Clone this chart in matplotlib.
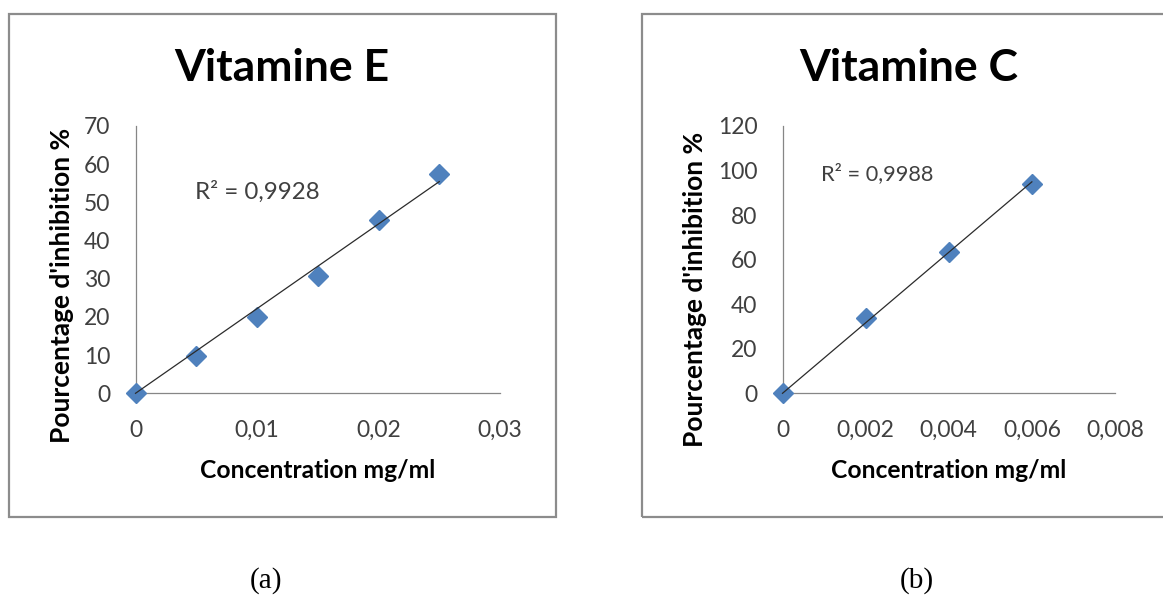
import numpy as np
import matplotlib
matplotlib.use("Agg")
import matplotlib.pyplot as plt
from matplotlib.patches import Rectangle
from matplotlib.ticker import FuncFormatter

# Vitamine E standard curve
vitE_conc = [0, 0.005, 0.01, 0.015, 0.02, 0.025]
vitE_inhib = [0, 9.8, 20.0, 30.6, 45.3, 57.4]
vitE_xticks = [0, 0.01, 0.02, 0.03]
vitE_yticks = [0, 10, 20, 30, 40, 50, 60, 70]
vitE_r2 = 0.9928

# Vitamine C standard curve
vitC_conc = [0, 0.002, 0.004, 0.006]
vitC_inhib = [0, 33.8, 63.6, 94.0]
vitC_xticks = [0, 0.002, 0.004, 0.006, 0.008]
vitC_yticks = [0, 20, 40, 60, 80, 100, 120]
vitC_r2 = 0.9988

W, H = 1163, 597
FONT = ["Lato", "DejaVu Sans"]
plt.rcParams["font.family"] = FONT

fig = plt.figure(figsize=(W / 100, H / 100), dpi=100)
fig.patch.set_facecolor("white")


def px_rect(x0, ytop, x1, ybot):
    return [x0 / W, 1 - ybot / H, (x1 - x0) / W, (ybot - ytop) / H]


def comma_fmt(v, _pos=None):
    return f"{v:g}".replace(".", ",")


AXIS_GREY = "#868686"
TEXT_GREY = "#404040"
BLUE = "#4F81BD"


def draw_panel(rect, frame, conc, inhib, xticks, yticks, r2, r2_pos, r2_size):
    # chart frame
    fx0, fy0, fx1, fy1 = frame
    fig.add_artist(Rectangle((fx0 / W, 1 - fy1 / H), (fx1 - fx0) / W, (fy1 - fy0) / H,
                             transform=fig.transFigure, fill=False,
                             edgecolor="#8c8c8c", linewidth=1.6))

    ax = fig.add_axes(px_rect(*rect))
    ax.set_facecolor("none")
    ax.set_xlim(xticks[0], xticks[-1])
    ax.set_ylim(yticks[0], yticks[-1])
    ax.set_xticks(xticks)
    ax.set_yticks(yticks)
    ax.xaxis.set_major_formatter(FuncFormatter(comma_fmt))
    ax.yaxis.set_major_formatter(FuncFormatter(comma_fmt))
    for side in ("top", "right"):
        ax.spines[side].set_visible(False)
    for side in ("left", "bottom"):
        ax.spines[side].set_color(AXIS_GREY)
        ax.spines[side].set_linewidth(0.9)
    ax.tick_params(axis="both", length=0, labelsize=16.5, labelcolor=TEXT_GREY)
    ax.tick_params(axis="y", pad=18)
    ax.tick_params(axis="x", pad=19)

    x = np.asarray(conc, dtype=float)
    y = np.asarray(inhib, dtype=float)
    ax.plot(x, y, linestyle="none", marker="D", markersize=10.5,
            markerfacecolor=BLUE, markeredgecolor=BLUE, clip_on=False, zorder=3)

    # linear trend line through the origin over the measured range
    slope = np.dot(x, y) / np.dot(x, x)
    xs = np.array([x.min(), x.max()])
    ax.plot(xs, slope * xs, color="#2b2b2b", linewidth=0.9, zorder=4, clip_on=False)

    ax.text(r2_pos[0], r2_pos[1], "R² = " + comma_fmt(r2), transform=ax.transAxes,
            fontsize=r2_size, color=TEXT_GREY, ha="left", va="baseline")

    ax.set_xlabel("Concentration mg/ml", fontsize=17.7, fontweight="bold", color="black")
    ax.set_ylabel("Pourcentage d'inhibition %", fontsize=19, fontweight="bold", color="black")

    rx0, rtop, rx1, rbot = rect
    ax.xaxis.set_label_coords(0.5, (rbot - 477.7) / (rbot - rtop))
    ax.xaxis.label.set_va("baseline")
    return ax


axE = draw_panel((135.5, 126, 500, 393.3), (9, 14.3, 556, 516.7),
                 vitE_conc, vitE_inhib, vitE_xticks, vitE_yticks, vitE_r2,
                 (0.163, 0.726), 17.4)
axE.yaxis.set_label_coords((62 - 135.5) / 364.5, (393.3 - 285.6) / 267.3)
axE.yaxis.label.set_va("center")

axC = draw_panel((782.5, 126, 1115, 393.3), (641.7, 14.3, 1170, 516.7),
                 vitC_conc, vitC_inhib, vitC_xticks, vitC_yticks, vitC_r2,
                 (0.1158, 0.798), 15.7)
axC.yaxis.set_label_coords((695 - 782.5) / 332.5, (393.3 - 289) / 267.3)
axC.yaxis.label.set_va("center")

# titles
fig.text(281.5 / W, 1 - 80.7 / H, "Vitamine E", fontsize=32, fontweight="bold",
         ha="center", va="baseline", color="black")
fig.text(909 / W, 1 - 80.7 / H, "Vitamine C", fontsize=32, fontweight="bold",
         ha="center", va="baseline", color="black")

# panel letters
for lx, letter in ((266, "(a)"), (917, "(b)")):
    fig.text(lx / W, 1 - 588 / H, letter, fontsize=21, family=["Liberation Serif"],
             ha="center", va="baseline", color="black")

fig.savefig("out.png", dpi=100)
